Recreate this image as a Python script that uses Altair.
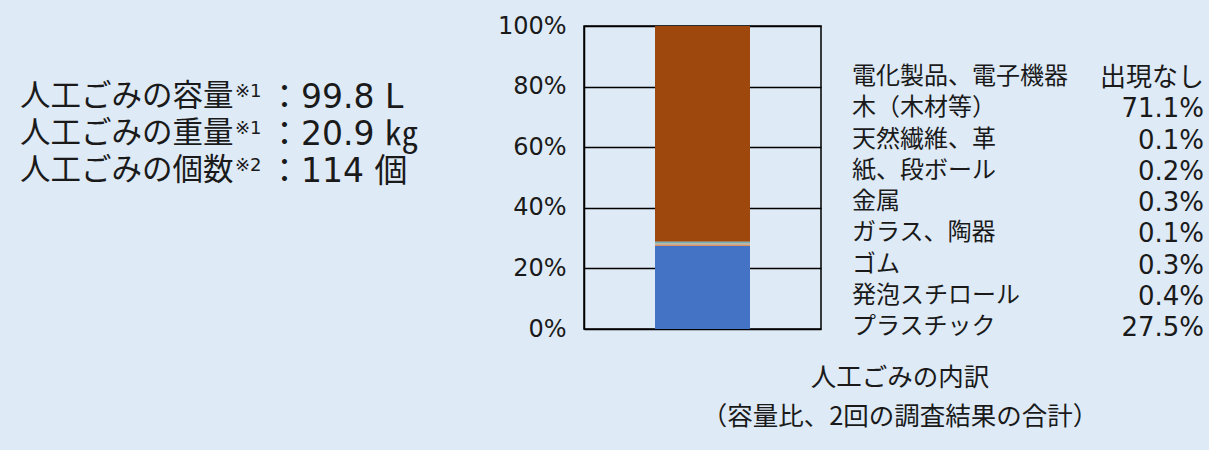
import altair as alt
import pandas as pd

# ---- data ----
categories = ["プラスチック", "発泡スチロール", "ゴム", "ガラス、陶器", "金属",
              "紙、段ボール", "天然繊維、革", "木（木材等）", "電化製品、電子機器"]
shares = [27.5, 0.4, 0.3, 0.1, 0.3, 0.2, 0.1, 71.1, 0.0]
share_labels = ["27.5%", "0.4%", "0.3%", "0.1%", "0.3%", "0.2%", "0.1%", "71.1%", "出現なし"]
colors = ["#4472C4", "#ED7D31", "#A5A5A5", "#FFC000", "#5B9BD5",
          "#70AD47", "#264478", "#9E480E", "#636363"]
y_ticks = [0, 20, 40, 60, 80, 100]

summary_names = ["人工ごみの容量", "人工ごみの重量", "人工ごみの個数"]
summary_notes = ["※1", "※1", "※2"]
summary_values = ["：99.8 L", "：20.9 ㎏", "：114 個"]

caption_lines = ["人工ごみの内訳", "（容量比、2回の調査結果の合計）"]

FONT = "Noto Sans CJK JP"
NUMFONT = "DejaVu Sans, Noto Sans CJK JP"
TEXT = "#1a1a1a"
BG = "#DEEAF6"

# plot area in page pixels
PL, PT, PR, PB = 584, 26, 821, 329
W, H = PR - PL, PB - PT

bar_df = pd.DataFrame({
    "group": ["人工ごみ"] * len(categories),
    "category": categories,
    "share": shares,
    "idx": list(range(len(categories))),
})

legend_df = pd.DataFrame({
    "label": categories[::-1],
    "value": share_labels[::-1],
    "row": list(range(len(categories))),
})

summary_df = pd.DataFrame({
    "name": summary_names,
    "note": summary_notes,
    "value": summary_values,
    "row": list(range(len(summary_names))),
})

caption_df = pd.DataFrame({"line": caption_lines, "row": list(range(len(caption_lines)))})

bars = alt.Chart(bar_df).mark_bar(size=95).encode(
    x=alt.X("group:N", axis=None, scale=alt.Scale(paddingInner=0, paddingOuter=0)),
    y=alt.Y("share:Q", stack="zero",
            scale=alt.Scale(domain=[0, 100], nice=False),
            axis=alt.Axis(values=y_ticks, labelExpr="datum.value + '%'", title=None,
                          grid=True, gridColor="black", gridWidth=1.5, gridOpacity=1,
                          domainColor="black", domainWidth=1.5, ticks=False,
                          labelPadding=18, labelFontSize=24, labelFont=NUMFONT,
                          labelColor=TEXT)),
    color=alt.Color("category:N", scale=alt.Scale(domain=categories, range=colors), legend=None),
    order=alt.Order("idx:Q"),
)

legend_labels = alt.Chart(legend_df).transform_calculate(
    py=f"{77 - PT} + datum.row * 31.25"
).mark_text(align="left", baseline="middle", fontSize=24, font=FONT, color=TEXT).encode(
    x=alt.value(852 - PL),
    y=alt.Y("py:Q", scale=None, axis=None),
    text="label:N",
)

legend_values = alt.Chart(legend_df).transform_calculate(
    py=f"{78 - PT} + datum.row * 31.25"
).mark_text(align="right", baseline="middle", fontSize=26, font=NUMFONT, color=TEXT).encode(
    x=alt.value(1204 - PL),
    y=alt.Y("py:Q", scale=None, axis=None),
    text="value:N",
)

sum_names = alt.Chart(summary_df).transform_calculate(
    py=f"{97 - PT} + datum.row * 37"
).mark_text(align="left", baseline="middle", fontSize=30.5, font=FONT, color=TEXT).encode(
    x=alt.value(20 - PL),
    y=alt.Y("py:Q", scale=None, axis=None),
    text="name:N",
)

sum_notes = alt.Chart(summary_df).transform_calculate(
    py=f"{92 - PT} + datum.row * 37"
).mark_text(align="left", baseline="middle", fontSize=18, font=NUMFONT, color=TEXT).encode(
    x=alt.value(235 - PL),
    y=alt.Y("py:Q", scale=None, axis=None),
    text="note:N",
)

sum_values = alt.Chart(summary_df).transform_calculate(
    py=f"{98 - PT} + datum.row * 37"
).mark_text(align="left", baseline="middle", fontSize=33, font=NUMFONT, color=TEXT).encode(
    x=alt.value(268 - PL),
    y=alt.Y("py:Q", scale=None, axis=None),
    text="value:N",
)

captions = alt.Chart(caption_df).transform_calculate(
    py=f"{378 - PT} + datum.row * 39"
).mark_text(align="center", baseline="middle", fontSize=25.5, font=FONT, color=TEXT).encode(
    x=alt.value(900 - PL),
    y=alt.Y("py:Q", scale=None, axis=None),
    text="line:N",
)

chart = alt.layer(
    bars, legend_labels, legend_values, sum_names, sum_notes, sum_values, captions
).resolve_scale(y="independent").properties(
    width=W, height=H,
    autosize=alt.AutoSizeParams(type="none"),
    padding={"left": PL, "top": PT, "right": 1209 - PR, "bottom": 450 - PB},
).configure(background=BG).configure_view(stroke="black", strokeWidth=1.5)

chart.save("out.html", embed_options={"renderer": "svg", "actions": False})
